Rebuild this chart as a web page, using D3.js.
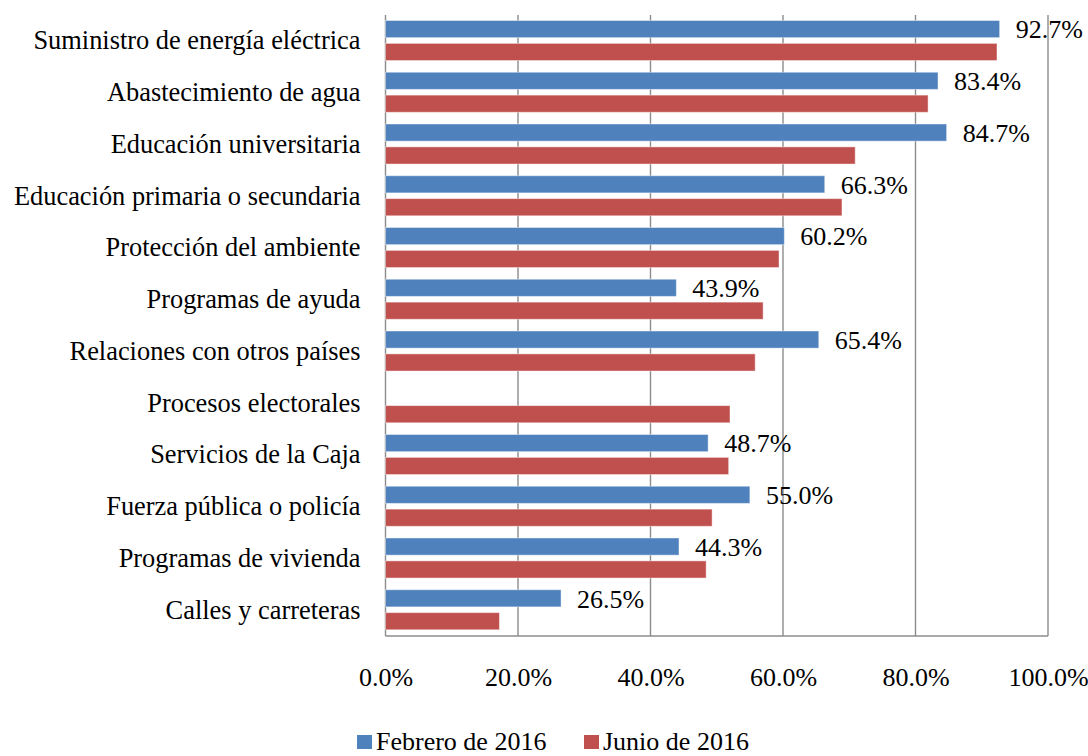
<!DOCTYPE html>
<html>
<head>
<meta charset="utf-8">
<script src="https://cdn.jsdelivr.net/npm/d3@7"></script>
<style>
  body { margin: 0; background: #fff; }
  svg text { font-family: "Liberation Serif", "Times New Roman", serif; fill: #000; }
</style>
</head>
<body>
<svg id="chart"></svg>
<script>
// data
const categories = [
  'Suministro de energía eléctrica',
  'Abastecimiento de agua',
  'Educación universitaria',
  'Educación primaria o secundaria',
  'Protección del ambiente',
  'Programas de ayuda',
  'Relaciones con otros países',
  'Procesos electorales',
  'Servicios de la Caja',
  'Fuerza pública o policía',
  'Programas de vivienda',
  'Calles y carreteras'
]
// null = no bar for that month
const febrero = [92.7, 83.4, 84.7, 66.3, 60.2, 43.9, 65.4, null, 48.7, 55.0, 44.3, 26.5]
const junio = [92.3, 81.9, 70.9, 68.9, 59.4, 57.0, 55.8, 52.0, 51.8, 49.3, 48.4, 17.2]
const seriesNames = ['Febrero de 2016', 'Junio de 2016']
const seriesColors = ['#4F81BD', '#C0504D']
const xTicks = [0, 20, 40, 60, 80, 100]

const svgWidth = 1088
const svgHeight = 756
const margin = { top: 15, right: 40, bottom: 120, left: 385.5 }
const width = svgWidth - margin.left - margin.right
const height = svgHeight - margin.top - margin.bottom

const svg = d3.select('#chart')
  .attr('width', svgWidth)
  .attr('height', svgHeight)

const g = svg.append('g')
  .attr('transform', `translate(${margin.left}, ${margin.top})`)

// scales
const x = d3.scaleLinear().domain([0, 100]).range([0, width])
const y = d3.scaleBand().domain(categories).range([0, height])
const ySub = d3.scaleBand()
  .domain([0, 1])
  .range([y.bandwidth() * 0.106, y.bandwidth() * 0.88])
  .paddingInner(0.25)

const fmt = d3.format('.1f')

// gridlines (vertical)
g.append('g')
  .selectAll('line')
  .data(xTicks)
  .enter()
  .append('line')
  .attr('x1', d => x(d))
  .attr('x2', d => x(d))
  .attr('y1', 0)
  .attr('y2', height)
  .attr('stroke', '#8c8c8c')
  .attr('stroke-width', 1.4)

// bottom axis line
g.append('line')
  .attr('x1', 0).attr('x2', width)
  .attr('y1', height).attr('y2', height)
  .attr('stroke', '#8c8c8c')
  .attr('stroke-width', 1.4)

// x axis labels
const xAxis = d3.axisBottom(x)
  .tickValues(xTicks)
  .tickSize(0)
  .tickPadding(0)
  .tickFormat(d => fmt(d) + '%')

g.append('g')
  .attr('transform', `translate(0, ${height})`)
  .call(xAxis)
  .call(a => a.select('.domain').remove())
  .call(a => a.selectAll('text')
    .attr('y', 50)
    .attr('dy', 0)
    .style('font-size', '26px')
    .style('font-family', '"Liberation Serif", "Times New Roman", serif')
    .attr('fill', '#000'))

// category labels
const yAxis = d3.axisLeft(y).tickSize(0).tickPadding(25)
g.append('g')
  .call(yAxis)
  .call(a => a.select('.domain').remove())
  .call(a => a.selectAll('text')
    .attr('dy', '0.32em')
    .style('font-size', '26.4px')
    .style('font-family', '"Liberation Serif", "Times New Roman", serif')
    .attr('fill', '#000'))

// bars
const series = [febrero, junio]
series.forEach((vals, si) => {
  const rows = categories.map((c, i) => ({ category: c, value: vals[i] }))
    .filter(d => d.value !== null)
  g.append('g')
    .selectAll('rect')
    .data(rows)
    .enter()
    .append('rect')
    .attr('x', 0)
    .attr('y', d => y(d.category) + ySub(si))
    .attr('width', d => x(d.value))
    .attr('height', ySub.bandwidth())
    .attr('fill', seriesColors[si])
    .attr('stroke', '#ffffff')
    .attr('stroke-opacity', 0.45)
    .attr('stroke-width', 1)
})

// data labels (only first series shows values)
g.append('g')
  .selectAll('text')
  .data(categories.map((c, i) => ({ category: c, value: febrero[i] })).filter(d => d.value !== null))
  .enter()
  .append('text')
  .attr('x', d => x(d.value) + 16)
  .attr('y', d => y(d.category) + ySub(0) + ySub.bandwidth() / 2)
  .attr('dy', '0.36em')
  .style('font-size', '26px')
  .text(d => fmt(d.value) + '%')

// legend
const legend = svg.append('g').attr('transform', 'translate(357, 735)')
const legendX = [0, 227]
seriesNames.forEach((name, i) => {
  const item = legend.append('g').attr('transform', `translate(${legendX[i]}, 0)`)
  item.append('rect')
    .attr('width', 15)
    .attr('height', 14)
    .attr('fill', seriesColors[i])
  item.append('text')
    .attr('x', 19)
    .attr('y', 15)
    .style('font-size', '26px')
    .text(name)
})
</script>
</body>
</html>
